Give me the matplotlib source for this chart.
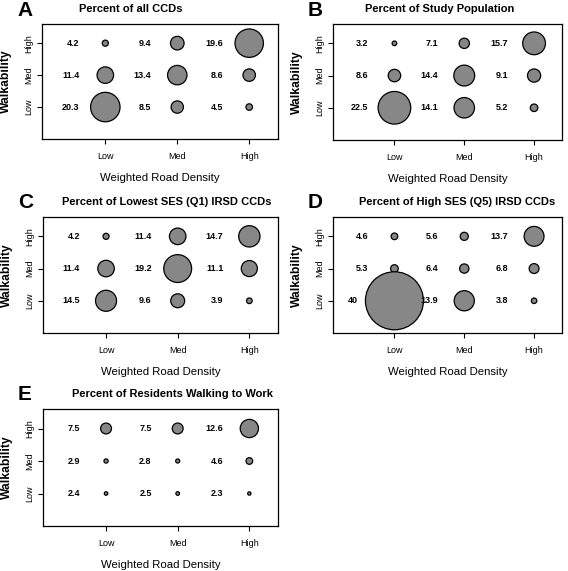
import matplotlib
matplotlib.use("Agg")
import matplotlib.pyplot as plt

plt.rcParams['font.family'] = ['Liberation Sans', 'DejaVu Sans']

W, H = 568, 571

road_levels = ['Low', 'Med', 'High']
walk_levels = ['High', 'Med', 'Low']   # row order as listed below

# values per row: High, Med, Low walkability; columns Low, Med, High road density
a_high = [4.2, 9.4, 19.6]
a_med = [11.4, 13.4, 8.6]
a_low = [20.3, 8.5, 4.5]

b_high = [3.2, 7.1, 15.7]
b_med = [8.6, 14.4, 9.1]
b_low = [22.5, 14.1, 5.2]

c_high = [4.2, 11.4, 14.7]
c_med = [11.4, 19.2, 11.1]
c_low = [14.5, 9.6, 3.9]

d_high = [4.6, 5.6, 13.7]
d_med = [5.3, 6.4, 6.8]
d_low = [40, 13.9, 3.8]

e_high = [7.5, 7.5, 12.6]
e_med = [2.9, 2.8, 4.6]
e_low = [2.4, 2.5, 2.3]

titles = ['Percent of all CCDs', 'Percent of Study Population',
          'Percent of Lowest SES (Q1) IRSD CCDs',
          'Percent of High SES (Q5) IRSD CCDs',
          'Percent of Residents Walking to Work']
letters = ['A', 'B', 'C', 'D', 'E']

# panel boxes in pixels: left, top, right, bottom ; title centre x
panels = [
    (42, 24, 278, 139, 131),
    (333, 24, 562, 140, 440),
    (43, 217, 278, 333, 167),
    (333, 217, 562, 333, 457),
    (43, 409, 278, 526, 172),
]
grids = [(a_high, a_med, a_low), (b_high, b_med, b_low), (c_high, c_med, c_low),
         (d_high, d_med, d_low), (e_high, e_med, e_low)]

fig = plt.figure(figsize=(W / 100, H / 100), dpi=100)

PX_PER_UNIT = 1.45  # bubble diameter in pixels per percent


def fx(px):
    return px / W


def fy(py):
    return 1 - py / H


for (l, t, r, b, tcx), rows, title, letter in zip(panels, grids, titles, letters):
    ax = fig.add_axes([fx(l), fy(b), (r - l) / W, (b - t) / H])
    xs, ys, vals = [], [], []
    for yi, row in zip([3, 2, 1], rows):
        for xi, v in zip([1, 2, 3], row):
            xs.append(xi)
            ys.append(yi)
            vals.append(v)
    sizes = [(v * PX_PER_UNIT * 0.72) ** 2 for v in vals]
    ax.scatter(xs, ys, s=sizes, c='#878787', edgecolors='black',
               linewidths=0.9, zorder=2, clip_on=False)
    ax.set_xlim(0.12, 3.4)
    ax.set_ylim(0, 3.6)
    unit_px = (r - l) / (3.4 - 0.12)
    for x, y, v in zip(xs, ys, vals):
        # label sits left of the bubble, pushed further out for very large bubbles
        off_px = max(26, v * PX_PER_UNIT / 2 + 8)
        ax.text(x - off_px / unit_px, y, f"{v:g}", ha='right', va='center',
                fontsize=6.5, fontweight='bold', zorder=3)
    ax.set_xticks([1, 2, 3])
    ax.set_xticklabels(road_levels, fontsize=6.5)
    ax.set_yticks([3, 2, 1])
    ax.set_yticklabels(walk_levels, fontsize=6.5, rotation=90, va='center')
    ax.tick_params(axis='x', length=3.6, width=0.8, pad=6)
    ax.tick_params(axis='y', length=3.6, width=0.8, pad=3)
    for sp in ax.spines.values():
        sp.set_linewidth(0.9)

    fig.text(fx((l + r) / 2), fy(b + 39), 'Weighted Road Density',
             ha='center', va='center', fontsize=8.2)
    fig.text(fx(l - 36), fy((t + b) / 2), 'Walkability', rotation=90,
             ha='center', va='center', fontsize=8.7, fontweight='bold')
    fig.text(fx(tcx), fy(t - 15), title, ha='center', va='center',
             fontsize=8, fontweight='bold')
    fig.text(fx(l - 25), fy(t - 14), letter, ha='left', va='center',
             fontsize=15, fontweight='bold')

fig.savefig('out.png', dpi=100)
